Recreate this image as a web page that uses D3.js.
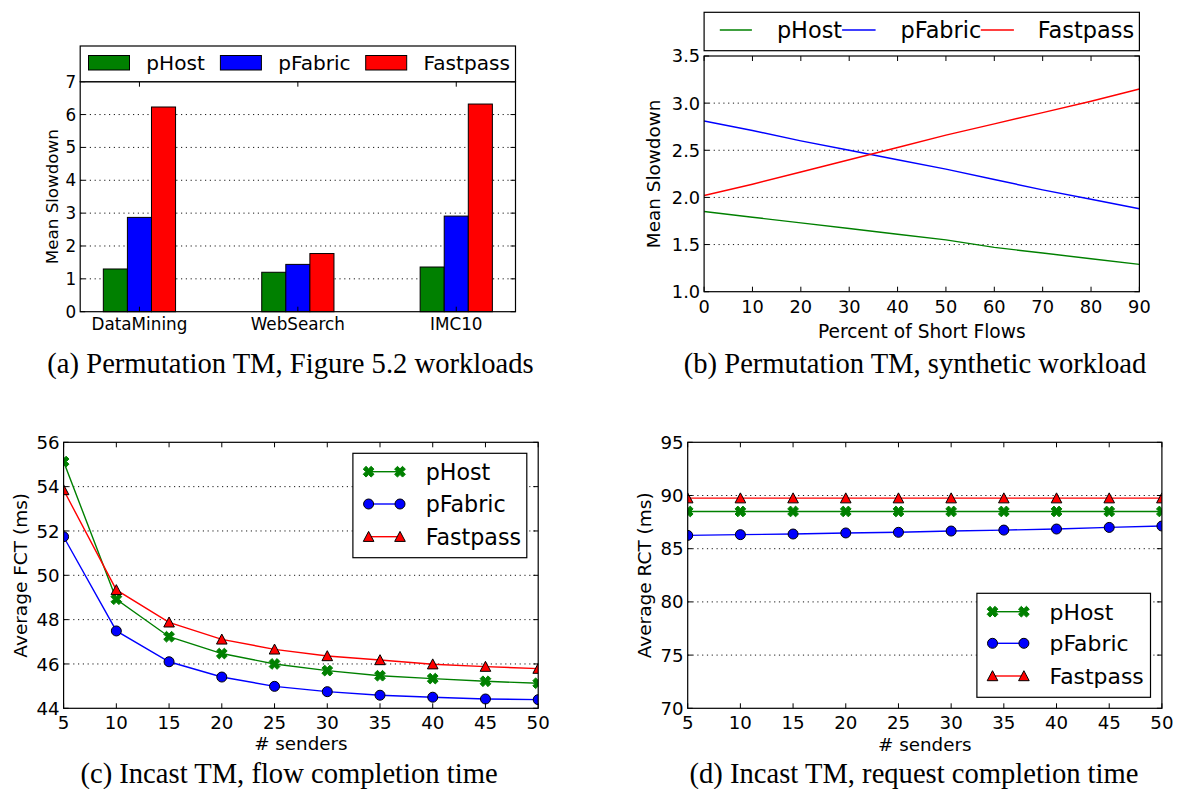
<!DOCTYPE html>
<html>
<head>
<meta charset="utf-8">
<script src="https://cdn.jsdelivr.net/npm/d3@7"></script>
<style>
  body { margin: 0; background: #fff; }
  svg { display: block; }
</style>
</head>
<body>
<svg id="fig" width="1179" height="789"></svg>
<script>
// ---- shared series definitions ----
const seriesNames = ["pHost", "pFabric", "Fastpass"];
const seriesColors = ["#008000", "#0000ff", "#ff0000"];

// ---- (a) Permutation TM, workloads ----
const workloads = ["DataMining", "WebSearch", "IMC10"];
const workloadPHost = [1.30, 1.20, 1.36];
const workloadPFabric = [2.87, 1.44, 2.91];
const workloadFastpass = [6.23, 1.77, 6.32];
const slowdownTicksA = [0, 1, 2, 3, 4, 5, 6, 7];

// ---- (b) Permutation TM, synthetic workload ----
const shortFlowPct = [0, 10, 20, 30, 40, 50, 60, 70, 80, 90];
const synthPHost = [1.85, 1.79, 1.73, 1.67, 1.61, 1.55, 1.47, 1.41, 1.35, 1.29];
const synthPFabric = [2.81, 2.71, 2.60, 2.50, 2.40, 2.30, 2.19, 2.08, 1.98, 1.88];
const synthFastpass = [2.02, 2.14, 2.27, 2.40, 2.53, 2.66, 2.78, 2.90, 3.02, 3.15];
const slowdownTicksB = [1.0, 1.5, 2.0, 2.5, 3.0, 3.5];

// ---- (c) Incast TM, flow completion time ----
const senders = [5, 10, 15, 20, 25, 30, 35, 40, 45, 50];
const fctPHost = [55.13, 48.92, 47.23, 46.47, 46.00, 45.70, 45.47, 45.34, 45.22, 45.13];
const fctPFabric = [51.74, 47.49, 46.10, 45.41, 44.99, 44.75, 44.59, 44.50, 44.42, 44.39];
const fctFastpass = [53.85, 49.34, 47.88, 47.11, 46.66, 46.36, 46.18, 45.99, 45.88, 45.79];
const fctTicks = [44, 46, 48, 50, 52, 54, 56];

// ---- (d) Incast TM, request completion time ----
const rctPHost = [88.5, 88.5, 88.5, 88.5, 88.5, 88.5, 88.5, 88.5, 88.5, 88.5];
const rctPFabric = [86.25, 86.32, 86.38, 86.48, 86.54, 86.66, 86.75, 86.85, 87.00, 87.13];
const rctFastpass = [89.75, 89.75, 89.75, 89.75, 89.75, 89.75, 89.75, 89.75, 89.75, 89.75];
const rctTicks = [70, 75, 80, 85, 90, 95];

const captions = [
  "(a) Permutation TM, Figure 5.2 workloads",
  "(b) Permutation TM, synthetic workload",
  "(c) Incast TM, flow completion time",
  "(d) Incast TM, request completion time"
];

const SANS = "'DejaVu Sans', 'Bitstream Vera Sans', sans-serif";
const SERIF = "'Liberation Serif', 'Times New Roman', serif";
const svg = d3.select("#fig");

// ---- marker shapes ----
function crossPath(L, h) {
  const pts = [[h, L], [h, h], [L, h], [L, -h], [h, -h], [h, -L], [-h, -L], [-h, -h], [-L, -h], [-L, h], [-h, h], [-h, L]];
  const c = Math.SQRT1_2;
  return "M" + pts.map(([x, y]) => [(x - y) * c, (x + y) * c].map(v => v.toFixed(2)).join(",")).join("L") + "Z";
}
const markerPaths = [
  crossPath(5.6, 2.0),
  d3.symbol(d3.symbolCircle, Math.PI * 5 * 5)(),
  "M0,-5.3L-5.3,4.7L5.3,4.7Z"
];
const markerStroke = ["#008000", "#000", "#000"];

function drawMarker(g, i, x, y) {
  g.append("path")
    .attr("d", markerPaths[i])
    .attr("transform", `translate(${x},${y})`)
    .attr("fill", seriesColors[i])
    .attr("stroke", markerStroke[i])
    .attr("stroke-width", 1);
}

let clipId = 0;
function makeFrame(f) {
  const id = "clip" + (clipId++);
  svg.append("clipPath").attr("id", id)
    .append("rect").attr("x", f.x0).attr("y", f.y0)
    .attr("width", f.x1 - f.x0).attr("height", f.y1 - f.y0);
  return id;
}

function drawGrid(f, y, vals) {
  svg.append("g").selectAll("line").data(vals).join("line")
    .attr("x1", f.x0).attr("x2", f.x1)
    .attr("y1", d => y(d)).attr("y2", d => y(d))
    .attr("stroke", "#000").attr("stroke-width", 0.9)
    .attr("stroke-dasharray", "1.2,3.6");
}

function drawAxes(f, x, y, xTicks, yTicks, opt) {
  const g = svg.append("g");
  // ticks pointing inward on all four sides
  const tl = 5;
  xTicks.forEach(t => {
    const px = x(t);
    g.append("line").attr("x1", px).attr("x2", px).attr("y1", f.y1).attr("y2", f.y1 - tl).attr("stroke", "#000");
    g.append("line").attr("x1", px).attr("x2", px).attr("y1", f.y0).attr("y2", f.y0 + tl).attr("stroke", "#000");
  });
  yTicks.forEach(t => {
    const py = y(t);
    g.append("line").attr("x1", f.x0).attr("x2", f.x0 + tl).attr("y1", py).attr("y2", py).attr("stroke", "#000");
    g.append("line").attr("x1", f.x1).attr("x2", f.x1 - tl).attr("y1", py).attr("y2", py).attr("stroke", "#000");
  });
  g.append("rect").attr("x", f.x0).attr("y", f.y0)
    .attr("width", f.x1 - f.x0).attr("height", f.y1 - f.y0)
    .attr("fill", "none").attr("stroke", "#000").attr("stroke-width", 1.2);

  g.selectAll("text.xt").data(xTicks).join("text").attr("class", "xt")
    .attr("x", d => x(d)).attr("y", f.y1 + opt.xTickDy)
    .attr("text-anchor", "middle")
    .attr("font-family", SANS).attr("font-size", opt.tickSize)
    .text(d => opt.xFmt(d));
  g.selectAll("text.yt").data(yTicks).join("text").attr("class", "yt")
    .attr("x", f.x0 - 4).attr("y", d => y(d)).attr("dy", "0.36em")
    .attr("text-anchor", "end")
    .attr("font-family", SANS).attr("font-size", opt.tickSize)
    .text(d => opt.yFmt(d));

  if (opt.xLabel) {
    g.append("text").attr("x", (f.x0 + f.x1) / 2).attr("y", opt.xLabelY)
      .attr("text-anchor", "middle").attr("font-family", SANS).attr("font-size", opt.labelSize)
      .text(opt.xLabel);
  }
  g.append("text")
    .attr("transform", `translate(${opt.yLabelX},${(f.y0 + f.y1) / 2}) rotate(-90)`)
    .attr("text-anchor", "middle").attr("font-family", SANS).attr("font-size", opt.yLabelSize || opt.labelSize)
    .text(opt.yLabel);
}

function drawCaption(text, cx, by) {
  svg.append("text").attr("x", cx).attr("y", by).attr("text-anchor", "middle")
    .attr("font-family", SERIF).attr("font-size", 28.6).text(text);
}

function drawSeries(f, clip, x, y, xs, ys, i, withMarkers) {
  const g = svg.append("g").attr("clip-path", `url(#${clip})`);
  const line = d3.line().x((d, k) => x(xs[k])).y(d => y(d));
  g.append("path").datum(ys).attr("d", line)
    .attr("fill", "none").attr("stroke", seriesColors[i]).attr("stroke-width", 1.4);
  if (withMarkers) ys.forEach((v, k) => drawMarker(g, i, x(xs[k]), y(v)));
}

function drawLineLegend(box, rows, lx0, lx1, tx, fontSize) {
  const g = svg.append("g");
  g.append("rect").attr("x", box.x0).attr("y", box.y0)
    .attr("width", box.x1 - box.x0).attr("height", box.y1 - box.y0)
    .attr("fill", "#fff").attr("stroke", "#000").attr("stroke-width", 1.2);
  seriesNames.forEach((name, i) => {
    const yy = rows[i];
    g.append("line").attr("x1", lx0).attr("x2", lx1).attr("y1", yy).attr("y2", yy)
      .attr("stroke", seriesColors[i]).attr("stroke-width", 1.4);
    drawMarker(g, i, lx0, yy);
    drawMarker(g, i, lx1, yy);
    g.append("text").attr("x", tx).attr("y", yy).attr("dy", "0.36em")
      .attr("font-family", SANS).attr("font-size", fontSize).text(name);
  });
}

// ================= (a) grouped bars =================
{
  const f = { x0: 80.2, x1: 515.5, y0: 81.7, y1: 311.7 };
  const x = d3.scalePoint().domain(workloads).range([f.x0, f.x1]).padding(0.374);
  const y = d3.scaleLinear().domain([0, 7]).range([f.y1, f.y0]);
  drawGrid(f, y, slowdownTicksA.slice(1, -1));
  const bw = x.step() * 0.152;
  const groups = [workloadPHost, workloadPFabric, workloadFastpass];
  groups.forEach((vals, i) => {
    svg.append("g").selectAll("rect").data(vals).join("rect")
      .attr("x", (d, k) => x(workloads[k]) + (i - 1.5) * bw)
      .attr("y", d => y(d))
      .attr("width", bw)
      .attr("height", d => y(0) - y(d))
      .attr("fill", seriesColors[i]).attr("stroke", "#000").attr("stroke-width", 1);
  });
  drawAxes(f, x, y, workloads, slowdownTicksA, {
    tickSize: 16.8, labelSize: 16.7, xTickDy: 18.5, xFmt: d => d, yFmt: d => d,
    yLabel: "Mean Slowdown", yLabelX: 58
  });
  // legend strip above the axes
  const lg = svg.append("g");
  lg.append("rect").attr("x", f.x0).attr("y", 46).attr("width", f.x1 - f.x0).attr("height", 35.7)
    .attr("fill", "#fff").attr("stroke", "#000").attr("stroke-width", 1.2);
  const patchX = [88.5, 220.4, 365.7];
  const textX = [146.3, 278.2, 423.6];
  seriesNames.forEach((name, i) => {
    lg.append("rect").attr("x", patchX[i]).attr("y", 55.5).attr("width", 41).attr("height", 14.5)
      .attr("fill", seriesColors[i]).attr("stroke", "#000").attr("stroke-width", 1);
    lg.append("text").attr("x", textX[i]).attr("y", 62.8).attr("dy", "0.36em")
      .attr("font-family", SANS).attr("font-size", 20.1).text(name);
  });
  drawCaption(captions[0], 290.5, 373);
}

// ================= (b) synthetic lines =================
{
  const f = { x0: 704.1, x1: 1139.4, y0: 56, y1: 291.7 };
  const clip = makeFrame(f);
  const x = d3.scaleLinear().domain([0, 90]).range([f.x0, f.x1]);
  const y = d3.scaleLinear().domain([1.0, 3.5]).range([f.y1, f.y0]);
  drawGrid(f, y, slowdownTicksB.slice(1, -1));
  [synthPHost, synthPFabric, synthFastpass].forEach((vals, i) =>
    drawSeries(f, clip, x, y, shortFlowPct, vals, i, false));
  drawAxes(f, x, y, shortFlowPct, slowdownTicksB, {
    tickSize: 17.8, labelSize: 18.6, yLabelSize: 18.4, xTickDy: 20.8, xFmt: d => d, yFmt: d3.format(".1f"),
    xLabel: "Percent of Short Flows", xLabelY: 337.7,
    yLabel: "Mean Slowdown", yLabelX: 660
  });
  const lg = svg.append("g");
  lg.append("rect").attr("x", f.x0).attr("y", 12.3).attr("width", f.x1 - f.x0).attr("height", 38.4)
    .attr("fill", "#fff").attr("stroke", "#000").attr("stroke-width", 1.2);
  const lineX = [[719.8, 751.9], [842.1, 875.6], [980.8, 1013.9]];
  const textX = [776.9, 900.6, 1037.8];
  seriesNames.forEach((name, i) => {
    lg.append("line").attr("x1", lineX[i][0]).attr("x2", lineX[i][1]).attr("y1", 30).attr("y2", 30)
      .attr("stroke", seriesColors[i]).attr("stroke-width", 1.4);
    lg.append("text").attr("x", textX[i]).attr("y", 30).attr("dy", "0.36em")
      .attr("font-family", SANS).attr("font-size", 22.4).text(name);
  });
  drawCaption(captions[1], 915, 373);
}

// ================= (c) incast FCT =================
{
  const f = { x0: 63.6, x1: 538.2, y0: 442.3, y1: 708.3 };
  const clip = makeFrame(f);
  const x = d3.scaleLinear().domain([5, 50]).range([f.x0, f.x1]);
  const y = d3.scaleLinear().domain([44, 56]).range([f.y1, f.y0]);
  drawGrid(f, y, fctTicks.slice(1, -1));
  [fctPHost, fctPFabric, fctFastpass].forEach((vals, i) =>
    drawSeries(f, clip, x, y, senders, vals, i, true));
  drawAxes(f, x, y, senders, fctTicks, {
    tickSize: 18.2, labelSize: 18.3, yLabelSize: 18.5, xTickDy: 20.3, xFmt: d => d, yFmt: d => d,
    xLabel: "# senders", xLabelY: 750,
    yLabel: "Average FCT (ms)", yLabelX: 26.5
  });
  drawLineLegend({ x0: 352.9, x1: 526.8, y0: 453.3, y1: 557.7 },
    [471.7, 504, 536.7], 368.6, 400, 425.7, 22.2);
  drawCaption(captions[2], 289, 782.5);
}

// ================= (d) incast RCT =================
{
  const f = { x0: 687.7, x1: 1161.9, y0: 442.3, y1: 708.3 };
  const clip = makeFrame(f);
  const x = d3.scaleLinear().domain([5, 50]).range([f.x0, f.x1]);
  const y = d3.scaleLinear().domain([70, 95]).range([f.y1, f.y0]);
  drawGrid(f, y, rctTicks.slice(1, -1));
  [rctPHost, rctPFabric, rctFastpass].forEach((vals, i) =>
    drawSeries(f, clip, x, y, senders, vals, i, true));
  drawAxes(f, x, y, senders, rctTicks, {
    tickSize: 18.2, labelSize: 18.3, yLabelSize: 18.5, xTickDy: 20.3, xFmt: d => d, yFmt: d => d,
    xLabel: "# senders", xLabelY: 750.5,
    yLabel: "Average RCT (ms)", yLabelX: 650.5
  });
  drawLineLegend({ x0: 976.9, x1: 1150.5, y0: 593.3, y1: 697.3 },
    [611.7, 643.3, 676], 992.5, 1023.9, 1049.6, 21.9);
  drawCaption(captions[3], 914, 782.5);
}
</script>
</body>
</html>
